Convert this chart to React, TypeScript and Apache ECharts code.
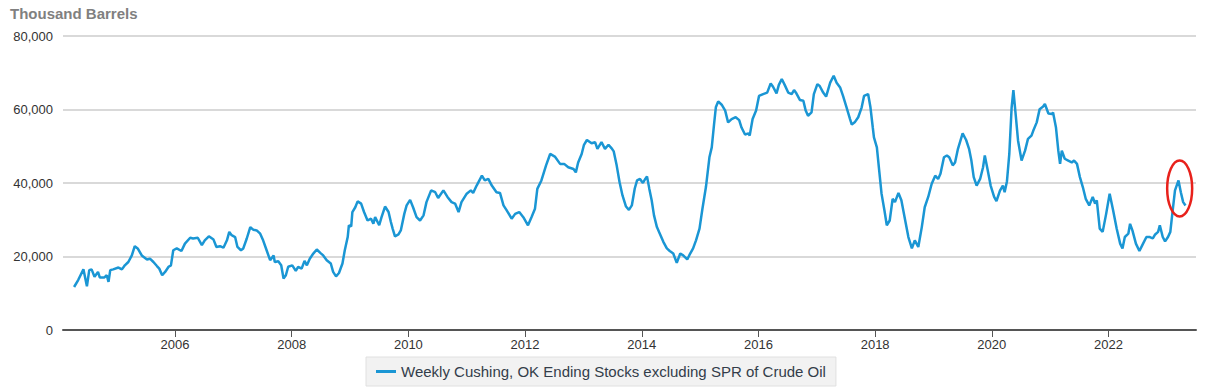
import React, { useEffect, useRef } from "react";
import * as echarts from "echarts";

// Decimal-year positions of weekly readings (sampled) and stocks in thousand barrels
const years: number[] = [
  2004.27, 2004.34, 2004.43, 2004.49, 2004.53, 2004.57, 2004.62, 2004.68, 2004.71, 2004.79,
  2004.83, 2004.86, 2004.89, 2004.94, 2005.03, 2005.09, 2005.14, 2005.20, 2005.26, 2005.31,
  2005.36, 2005.43, 2005.52, 2005.57, 2005.63, 2005.69, 2005.73, 2005.78, 2005.83, 2005.89,
  2005.93, 2005.97, 2006.03, 2006.11, 2006.17, 2006.26, 2006.31, 2006.39, 2006.46, 2006.51,
  2006.58, 2006.66, 2006.71, 2006.77, 2006.83, 2006.89, 2006.93, 2006.97, 2007.03, 2007.07,
  2007.13, 2007.17, 2007.23, 2007.29, 2007.34, 2007.40, 2007.46, 2007.51, 2007.57, 2007.63,
  2007.69, 2007.71, 2007.77, 2007.82, 2007.86, 2007.90, 2007.94, 2008.01, 2008.07, 2008.11,
  2008.17, 2008.22, 2008.26, 2008.31, 2008.37, 2008.43, 2008.49, 2008.54, 2008.60, 2008.67,
  2008.71, 2008.76, 2008.81, 2008.87, 2008.91, 2008.96, 2008.98, 2009.02, 2009.04, 2009.09,
  2009.13, 2009.19, 2009.24, 2009.30, 2009.36, 2009.40, 2009.43, 2009.50, 2009.54, 2009.60,
  2009.66, 2009.70, 2009.73, 2009.77, 2009.83, 2009.87, 2009.93, 2009.97, 2010.03, 2010.08,
  2010.14, 2010.20, 2010.26, 2010.31, 2010.39, 2010.46, 2010.51, 2010.60, 2010.67, 2010.74,
  2010.80, 2010.86, 2010.91, 2011.00, 2011.07, 2011.11, 2011.17, 2011.26, 2011.31, 2011.37,
  2011.43, 2011.51, 2011.57, 2011.63, 2011.68, 2011.77, 2011.83, 2011.90, 2011.97, 2012.05,
  2012.11, 2012.17, 2012.21, 2012.28, 2012.36, 2012.43, 2012.51, 2012.60, 2012.67, 2012.74,
  2012.83, 2012.87, 2012.91, 2012.97, 2013.01, 2013.06, 2013.14, 2013.20, 2013.24, 2013.31,
  2013.37, 2013.43, 2013.48, 2013.52, 2013.57, 2013.62, 2013.67, 2013.73, 2013.78, 2013.83,
  2013.88, 2013.92, 2013.97, 2014.02, 2014.06, 2014.09, 2014.13, 2014.17, 2014.21, 2014.26,
  2014.31, 2014.37, 2014.43, 2014.48, 2014.54, 2014.60, 2014.66, 2014.71, 2014.78, 2014.83,
  2014.88, 2014.93, 2014.99, 2015.04, 2015.10, 2015.16, 2015.20, 2015.24, 2015.27, 2015.31,
  2015.37, 2015.43, 2015.48, 2015.54, 2015.61, 2015.67, 2015.71, 2015.77, 2015.83, 2015.85,
  2015.90, 2015.96, 2016.01, 2016.08, 2016.15, 2016.21, 2016.25, 2016.31, 2016.35, 2016.40,
  2016.45, 2016.51, 2016.57, 2016.61, 2016.65, 2016.71, 2016.77, 2016.81, 2016.85, 2016.91,
  2016.95, 2017.01, 2017.05, 2017.11, 2017.16, 2017.23, 2017.29, 2017.34, 2017.40, 2017.45,
  2017.51, 2017.57, 2017.60, 2017.65, 2017.71, 2017.77, 2017.81, 2017.88, 2017.92, 2017.96,
  2017.98, 2018.03, 2018.07, 2018.11, 2018.16, 2018.20, 2018.25, 2018.30, 2018.34, 2018.40,
  2018.45, 2018.51, 2018.57, 2018.63, 2018.68, 2018.74, 2018.80, 2018.85, 2018.91, 2018.97,
  2019.03, 2019.08, 2019.12, 2019.18, 2019.23, 2019.27, 2019.33, 2019.37, 2019.42, 2019.50,
  2019.56, 2019.61, 2019.65, 2019.69, 2019.74, 2019.80, 2019.85, 2019.88, 2019.92, 2019.98,
  2020.04, 2020.08, 2020.14, 2020.19, 2020.22, 2020.26, 2020.30, 2020.34, 2020.37, 2020.41,
  2020.45, 2020.51, 2020.57, 2020.62, 2020.68, 2020.71, 2020.77, 2020.82, 2020.88, 2020.91,
  2020.97, 2021.03, 2021.05, 2021.10, 2021.14, 2021.17, 2021.20, 2021.25, 2021.31, 2021.37,
  2021.41, 2021.46, 2021.51, 2021.56, 2021.61, 2021.67, 2021.73, 2021.77, 2021.80, 2021.85,
  2021.90, 2021.96, 2022.02, 2022.08, 2022.14, 2022.20, 2022.24, 2022.28, 2022.34, 2022.37,
  2022.41, 2022.47, 2022.53, 2022.58, 2022.65, 2022.71, 2022.76, 2022.80, 2022.85, 2022.88,
  2022.93, 2022.97, 2023.02, 2023.06, 2023.10, 2023.14, 2023.20, 2023.24, 2023.28, 2023.32,
];

const stocks: number[] = [
  11700, 13600, 16500, 11900, 16300, 16500, 14500, 15800, 14300, 14300,
  14900, 13100, 16300, 16500, 17000, 16500, 17600, 18500, 20300, 22800,
  22200, 20300, 19200, 19400, 18500, 17400, 16700, 14900, 15800, 17200,
  17600, 21700, 22200, 21500, 23500, 25100, 24900, 25100, 23100, 24400,
  25500, 24600, 22600, 22800, 22400, 24400, 26700, 25800, 25300, 22600,
  21700, 22200, 24900, 28000, 27300, 27100, 26200, 24400, 21700, 19000,
  20300, 18500, 18700, 17600, 14000, 14900, 17200, 17600, 16100, 17200,
  16700, 18800, 17600, 19400, 20800, 21900, 21000, 20300, 19000, 18100,
  15800, 14600, 15500, 18100, 21700, 25300, 28500, 28200, 32100, 33400,
  35000, 34400, 32100, 29800, 30300, 28900, 30700, 28500, 30700, 33600,
  32100, 29400, 27600, 25500, 26000, 27100, 31600, 33900, 35400, 33400,
  30700, 29800, 31200, 34800, 38000, 37500, 35900, 38000, 36200, 34800,
  34400, 32100, 34800, 37100, 38000, 37300, 39300, 42000, 40700, 41100,
  39300, 37500, 37300, 33900, 32700, 30300, 31600, 32100, 30700, 28500,
  30700, 33000, 38400, 40700, 44800, 47900, 47200, 45200, 45200, 44300,
  43800, 42900, 45600, 47900, 50400, 51700, 50800, 51100, 49300, 51100,
  49300, 50400, 49500, 48600, 44800, 40200, 36600, 33600, 32700, 33900,
  38500, 40700, 41100, 40000, 41100, 41800, 38400, 35300, 31200, 28000,
  26200, 24000, 22200, 21500, 20800, 18300, 20800, 20300, 19200, 20800,
  22200, 24400, 27600, 33000, 38900, 47000, 49700, 56100, 60600, 62200,
  61300, 59700, 56500, 57400, 57900, 57100, 55100, 53200, 53500, 52900,
  57400, 59700, 63700, 64200, 64600, 67100, 66200, 64400, 66700, 68300,
  66700, 64600, 64200, 65300, 64400, 62600, 62400, 59700, 58300, 59200,
  64200, 66900, 66400, 64600, 63500, 67300, 69200, 67300, 66000, 63700,
  60600, 57400, 55900, 56500, 57900, 60600, 63700, 64200, 60600, 55100,
  52400, 49700, 43400, 37100, 32500, 28500, 29800, 35700, 34800, 37300,
  35300, 30300, 25300, 22200, 24400, 22600, 28000, 33400, 36200, 39800,
  42000, 41100, 42500, 47000, 47500, 47000, 44800, 45600, 49300, 53500,
  51700, 49300, 46100, 41600, 39300, 41100, 44300, 47500, 44300, 39300,
  36200, 35100, 37900, 39300, 37500, 40500, 47900, 60600, 65300, 58500,
  51500, 46100, 48800, 52000, 52900, 54200, 56500, 60100, 60800, 61500,
  58900, 58800, 59200, 55100, 48800, 45200, 48800, 46600, 46100, 45600,
  46100, 45200, 41600, 38900, 35700, 33900, 36200, 34400, 35300, 27600,
  26700, 31600, 37100, 32500, 27600, 23500, 22200, 25300, 26200, 28900,
  27100, 23500, 21500, 23100, 25300, 25300, 24900, 26000, 26700, 28500,
  25300, 24100, 25300, 26700, 32500, 38000, 40700, 37500, 34800, 33900,
];

const yearTicks: number[] = [2006, 2008, 2010, 2012, 2014, 2016, 2018, 2020, 2022];
const seriesName = "Weekly Cushing, OK Ending Stocks excluding SPR of Crude Oil";
const unitLabel = "Thousand Barrels";
// Highlight annotation around the latest peak: [year, value]
const highlightCenter: [number, number] = [2023.22, 38500];

const FONT = "Liberation Sans, Arial, sans-serif";

export default function App() {
  const ref = useRef<HTMLDivElement>(null);

  useEffect(() => {
    if (!ref.current) return;
    const chart = echarts.init(ref.current, undefined, { renderer: "svg" });
    const data = years.map((y, i) => [y, stocks[i]]);
    const titleGraphic = {
      type: "text",
      left: 10,
      top: 6,
      style: {
        text: unitLabel,
        fill: "#808080",
        font: `bold 15px ${FONT}`,
      },
    };
    chart.setOption({
      animation: false,
      backgroundColor: "#ffffff",
      textStyle: { fontFamily: FONT },
      grid: { left: 63, right: 12, top: 36, bottom: 62 },
      xAxis: {
        type: "value",
        min: 2004.08,
        max: 2023.5,
        axisLine: { show: true, lineStyle: { color: "#555555", width: 2 } },
        axisTick: {
          show: true,
          length: 7,
          lineStyle: { color: "#555555", width: 1 },
          customValues: yearTicks,
        },
        axisLabel: {
          customValues: yearTicks,
          color: "#333333",
          fontSize: 13,
          margin: 8,
          formatter: (v: number) => String(Math.round(v)),
        },
        splitLine: { show: false },
      },
      yAxis: {
        type: "value",
        min: 0,
        max: 80000,
        interval: 20000,
        axisLine: { show: false },
        axisTick: { show: false },
        axisLabel: {
          color: "#333333",
          fontSize: 13,
          margin: 10,
          formatter: (v: number) => v.toLocaleString("en-US"),
        },
        splitLine: { lineStyle: { color: "#cccccc", width: 1.5 } },
      },
      legend: {
        show: true,
        left: 366,
        top: 357,
        padding: [7, 10, 7, 10],
        backgroundColor: "#f2f2f2",
        borderColor: "#e0e0e0",
        borderWidth: 1,
        icon: "rect",
        itemWidth: 20,
        itemHeight: 3,
        itemGap: 10,
        textStyle: { color: "#333d4a", fontSize: 15 },
        data: [seriesName],
      },
      graphic: [titleGraphic],
      series: [
        {
          name: seriesName,
          type: "line",
          data,
          showSymbol: false,
          symbol: "none",
          lineStyle: { color: "#1a96d4", width: 2.5 },
          itemStyle: { color: "#1a96d4" },
        },
      ],
    });

    const c = chart.convertToPixel({ xAxisIndex: 0, yAxisIndex: 0 }, highlightCenter) as number[];
    if (c && isFinite(c[0])) {
      chart.setOption({
        graphic: [
          titleGraphic,
          {
            type: "ellipse",
            shape: { cx: c[0], cy: c[1], rx: 12.5, ry: 28 },
            style: { fill: "none", stroke: "#e8211b", lineWidth: 2.5 },
            z: 10,
          },
        ],
      });
    }

    return () => chart.dispose();
  }, []);

  return (
    <div
      ref={ref}
      style={{ position: "fixed", left: 0, top: 0, width: 1208, height: 392 }}
    />
  );
}
